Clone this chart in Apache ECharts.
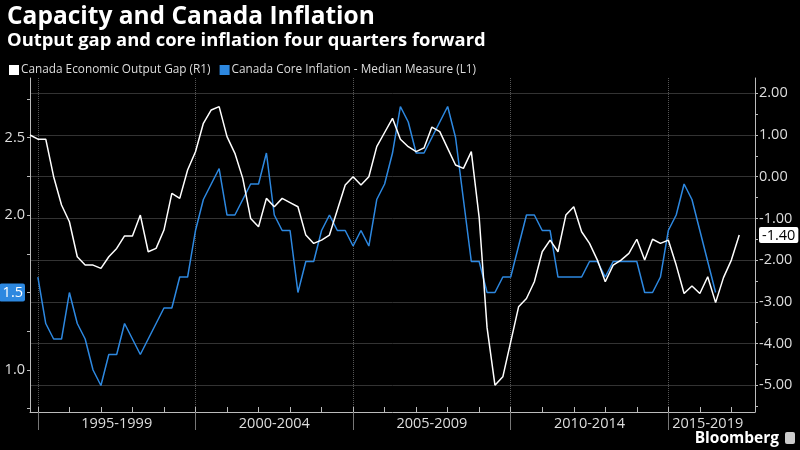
<!DOCTYPE html>
<html>
<head>
<meta charset="utf-8">
<script src="https://cdn.jsdelivr.net/npm/echarts@6/dist/echarts.min.js"></script>
<style>
html,body{margin:0;padding:0;background:#000;}
#chart{width:800px;height:450px;}
</style>
</head>
<body>
<div id="chart"></div>
<script>
// quarters from 1994 Q4 to 2017 Q4
var quarters = [];
var yr = 1994, qt = 4;
while (quarters.length < 93) {
	quarters.push(yr + ' Q' + qt);
	qt++;
	if (qt > 4) { qt = 1; yr++; }
}

// Canada Economic Output Gap (R1), % of potential
var outputGap = [
	1.0, 0.9, 0.9, 0.0, -0.68, -1.08, -1.92, -2.12, -2.12, -2.2,
	-1.92, -1.72, -1.42, -1.42, -0.92, -1.8, -1.72, -1.28, -0.4, -0.52,
	0.16, 0.6, 1.28, 1.6, 1.68, 0.96, 0.56, -0.04, -1.0, -1.2,
	-0.52, -0.72, -0.52, -0.62, -0.72, -1.4, -1.6, -1.52, -1.4, -0.8,
	-0.2, 0.0, -0.2, 0.0, 0.72, 1.06, 1.4, 0.9, 0.72, 0.6,
	0.69, 1.19, 1.08, 0.68, 0.28, 0.2, 0.6, -0.98, -3.62, -5.0,
	-4.8, -3.96, -3.12, -2.92, -2.52, -1.8, -1.52, -1.8, -0.92, -0.72,
	-1.32, -1.6, -2.0, -2.52, -2.12, -2.0, -1.84, -1.5, -2.0, -1.5,
	-1.6, -1.52, -2.12, -2.8, -2.62, -2.8, -2.4, -3.02, -2.42, -2.0,
	-1.4, null, null
];

// Canada Core Inflation - Median Measure (L1), four quarters forward
var coreInflation = [
	null, 1.6, 1.3, 1.2, 1.2, 1.5, 1.3, 1.2, 1.0, 0.9,
	1.1, 1.1, 1.3, 1.2, 1.1, 1.2, 1.3, 1.4, 1.4, 1.6,
	1.6, 1.9, 2.1, 2.2, 2.3, 2.0, 2.0, 2.1, 2.2, 2.2,
	2.4, 2.0, 1.9, 1.9, 1.5, 1.7, 1.7, 1.9, 2.0, 1.9,
	1.9, 1.8, 1.9, 1.8, 2.1, 2.2, 2.4, 2.7, 2.6, 2.4,
	2.4, 2.5, 2.6, 2.7, 2.5, 2.1, 1.7, 1.7, 1.5, 1.5,
	1.6, 1.6, 1.8, 2.0, 2.0, 1.9, 1.9, 1.6, 1.6, 1.6,
	1.6, 1.7, 1.7, 1.6, 1.7, 1.7, 1.7, 1.7, 1.5, 1.5,
	1.6, 1.9, 2.0, 2.2, 2.1, 1.9, 1.7, 1.5, null, null,
	null, null, null
];

var periodLabels = ['1995-1999', '2000-2004', '2005-2009', '2010-2014', '2015-2019'];
var periodLabelIdx = [11, 31, 51, 71, 86];
var periodStartIdx = [1, 21, 41, 61, 81];

var leftLabels = [1.0, 1.5, 2.0, 2.5];
var leftTicks = [0.75, 1.0, 1.25, 1.5, 1.75, 2.0, 2.25, 2.5, 2.75];
var rightGrid = [-5, -4, -3, -2, -1, 0, 1, 2];
var rightTicks = [-5.5, -5, -4.5, -4, -3.5, -3, -2.5, -2, -1.5, -1, -0.5, 0, 0.5, 1, 1.5, 2];

var lastCore = 1.5;
var lastGap = -1.4;

var WHITE = '#ffffff';
var BLUE = '#2d88e0';
var FONT = 'Open Sans';

var myChart = echarts.init(document.getElementById('chart'));

var option = {
	backgroundColor: '#000',
	animation: false,
	textStyle: { fontFamily: FONT },
	title: {
		text: 'Capacity and Canada Inflation',
		subtext: 'Output gap and core inflation four quarters forward',
		left: 2,
		top: 0,
		itemGap: 2,
		textStyle: { color: '#fff', fontSize: 24.5, fontWeight: 'bold', fontFamily: FONT },
		subtextStyle: { color: '#fff', fontSize: 18.4, fontWeight: 'bold', fontFamily: FONT }
	},
	legend: {
		left: 4,
		top: 59,
		icon: 'rect',
		itemWidth: 10,
		itemHeight: 10,
		itemGap: 9,
		textStyle: { color: '#ddd', fontSize: 11.8, fontFamily: FONT, padding: [0, 0, 0, -3] },
		data: ['Canada Economic Output Gap (R1)', 'Canada Core Inflation - Median Measure (L1)']
	},
	grid: { left: 30, right: 45, top: 78, bottom: 38, outerBoundsMode: 'none', containLabel: false },
	xAxis: [
		{
			type: 'category',
			data: quarters,
			boundaryGap: false,
			axisLine: { onZero: false, lineStyle: { color: '#bbb', width: 1 } },
			axisTick: {
				inside: true,
				length: 5,
				interval: function (idx) { return (idx - 1) % 4 === 0; },
				lineStyle: { color: '#bbb' }
			},
			axisLabel: {
				color: '#ddd',
				fontSize: 14.5,
				margin: 4,
				interval: function (idx) { return periodLabelIdx.indexOf(idx) >= 0; },
				formatter: function (val, idx) {
					var k = periodLabelIdx.indexOf(idx);
					return k >= 0 ? periodLabels[k] : '';
				}
			},
			splitLine: { show: false }
		},
		{
			type: 'category',
			data: quarters,
			boundaryGap: false,
			position: 'bottom',
			axisLine: { show: false, onZero: false },
			axisTick: {
				length: 18,
				interval: function (idx) { return periodStartIdx.indexOf(idx) >= 0; },
				lineStyle: { color: '#777' }
			},
			axisLabel: { show: false },
			splitLine: {
				show: true,
				interval: function (idx) { return periodStartIdx.indexOf(idx) >= 0; },
				lineStyle: { color: '#555', type: 'dotted', width: 1 }
			}
		}
	],
	yAxis: [
		{
			type: 'value',
			position: 'left',
			min: 0.729,
			max: 2.884,
			axisLine: { show: true, lineStyle: { color: '#bbb' } },
			axisTick: { show: true, length: 3, customValues: leftTicks, lineStyle: { color: '#bbb' } },
			splitLine: { show: false },
			axisLabel: {
				customValues: leftLabels,
				color: '#ddd',
				fontSize: 14.5,
				margin: 5,
				formatter: function (v) {
					if (Math.abs(v - lastCore) < 1e-9) return '{tag|' + v.toFixed(1) + '}';
					return v.toFixed(1);
				},
				rich: {
					tag: {
						backgroundColor: BLUE,
						color: '#fff',
						fontSize: 14.5,
						fontFamily: FONT,
						padding: [2, 2, 1, 3],
						borderRadius: 2
					}
				}
			}
		},
		{
			type: 'value',
			position: 'right',
			min: -5.643,
			max: 2.367,
			axisLine: { show: true, lineStyle: { color: '#bbb' } },
			axisTick: { show: true, length: 3, customValues: rightTicks, lineStyle: { color: '#bbb' } },
			splitLine: { show: false },
			axisLabel: {
				customValues: rightGrid.concat([lastGap]),
				color: '#ddd',
				fontSize: 14.5,
				margin: 4,
				formatter: function (v) {
					if (Math.abs(v - lastGap) < 1e-9) return '{tag|' + v.toFixed(2) + '}';
					return v.toFixed(2);
				},
				rich: {
					tag: {
						backgroundColor: '#fff',
						color: '#000',
						fontSize: 14.5,
						fontFamily: FONT,
						padding: [1, 3, 0, 3],
						borderRadius: 2
					}
				}
			}
		},
		{
			type: 'value',
			position: 'right',
			min: -5.643,
			max: 2.367,
			axisLine: { show: false },
			axisTick: { show: false, customValues: rightGrid },
			axisLabel: { show: false },
			splitLine: { show: true, lineStyle: { color: '#333', width: 1 } }
		}
	],
	series: [
		{
			name: 'Canada Economic Output Gap (R1)',
			type: 'line',
			xAxisIndex: 0,
			yAxisIndex: 1,
			data: outputGap,
			symbol: 'none',
			z: 3,
			itemStyle: { color: WHITE },
			lineStyle: { color: WHITE, width: 1.5 }
		},
		{
			name: 'Canada Core Inflation - Median Measure (L1)',
			type: 'line',
			xAxisIndex: 0,
			yAxisIndex: 0,
			data: coreInflation,
			symbol: 'none',
			z: 2,
			itemStyle: { color: BLUE },
			lineStyle: { color: BLUE, width: 1.5 }
		}
	],
	graphic: [
		{
			type: 'text',
			right: 21,
			bottom: 3,
			style: { text: 'Bloomberg', fill: '#fff', font: 'bold 15.5px "Open Sans"' }
		},
		{
			type: 'rect',
			right: 5,
			bottom: 6,
			shape: { width: 10, height: 12, r: 2 },
			style: { fill: '#ccc' }
		}
	]
};

myChart.setOption(option);
</script>
</body>
</html>
